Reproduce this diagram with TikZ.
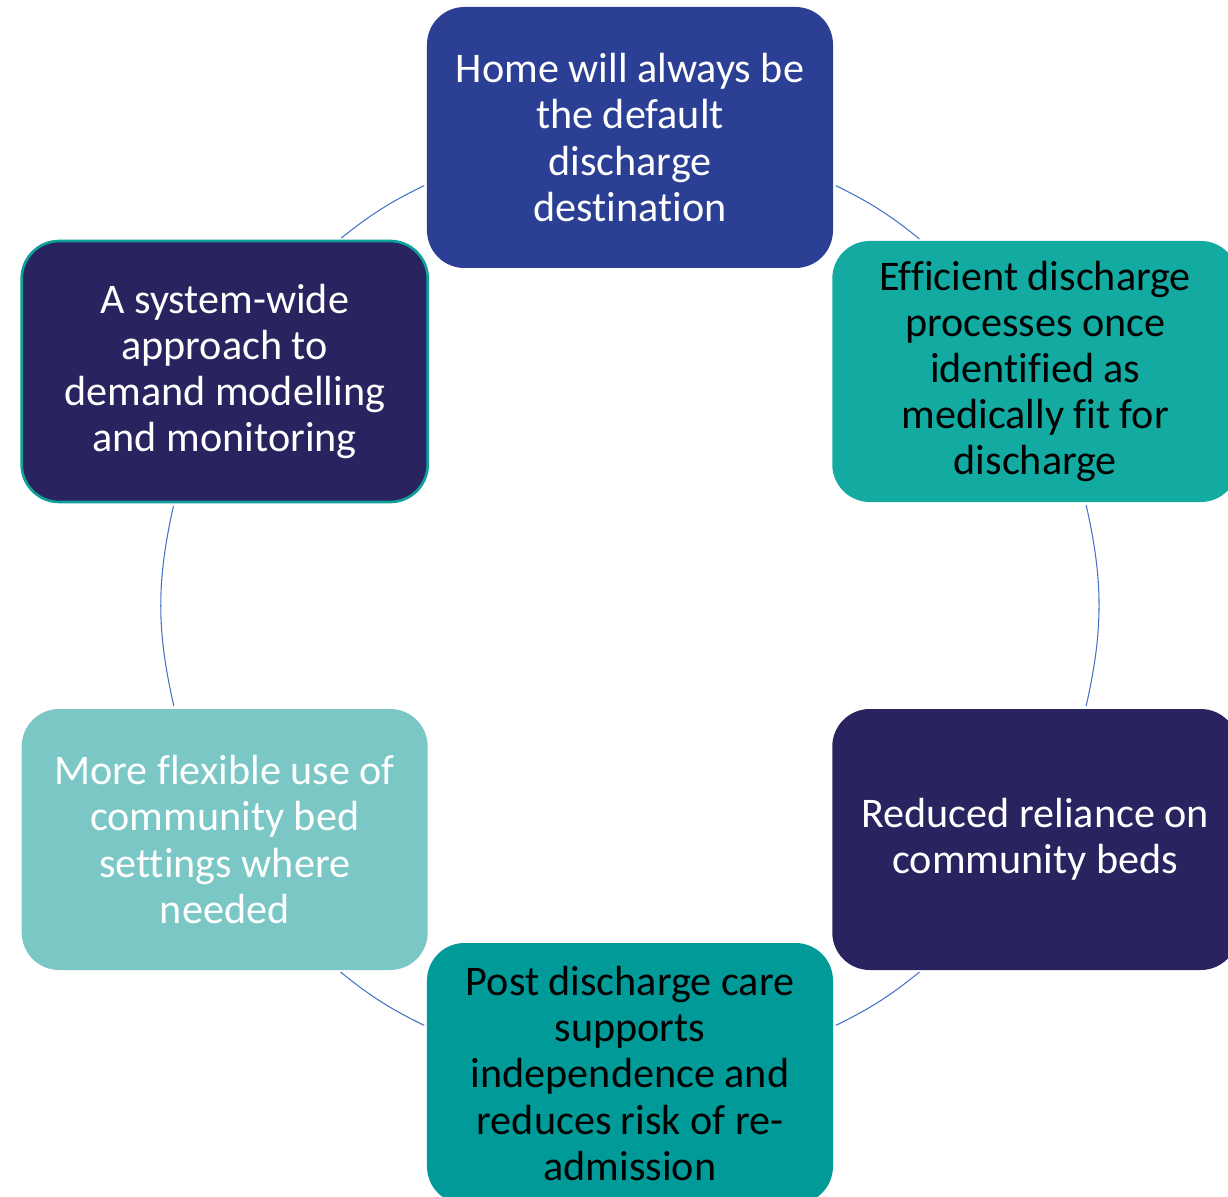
\documentclass[tikz,border=0pt]{standalone}
\usepackage{fontspec}
\setmainfont[Ligatures=NoCommon]{Carlito}

\definecolor{homeblue}{HTML}{2B3F95}
\definecolor{proccyan}{HTML}{13ABA1}
\definecolor{navy}{HTML}{29235F}
\definecolor{postteal}{HTML}{009B98}
\definecolor{flexteal}{HTML}{7AC7C6}
\definecolor{sysedge}{HTML}{10A09A}
\definecolor{ringblue}{HTML}{4472C4}

\begin{document}
\begin{tikzpicture}[
    goal/.style={rectangle, rounded corners=0.75cm, minimum width=8.12cm,
      minimum height=5.22cm, inner sep=0pt, align=center,
      font=\fontsize{24}{26.2}\selectfont},
    ring/.style={draw=ringblue, line width=0.6pt, shorten >=1.5pt, shorten <=1.5pt}
  ]
        \def \radius {9.36cm}
        \useasboundingbox (-12.6,-11.81) rectangle (11.96,12.11);

        \node[goal, fill=homeblue, text=white] (home) at (90:\radius)
          {Home will always be\\the default\\discharge\\destination};
        \node[goal, fill=proccyan, text=black] (proc) at (30:\radius)
          {Efficient discharge\\processes once\\identified as\\medically fit for\\discharge};
        \node[goal, fill=navy, text=white] (beds) at (-30:\radius)
          {Reduced reliance on\\community beds};
        \node[goal, fill=postteal, text=black] (post) at (-90:\radius)
          {Post discharge care\\supports\\independence and\\reduces risk of re-\\admission};
        \node[goal, fill=flexteal, text=white] (flex) at (210:\radius)
          {More flexible use of\\community bed\\settings where\\needed};
        \node[goal, fill=navy, draw=sysedge, line width=1.5pt, text=white] (sys) at (150:\radius)
          {A system-wide\\approach to\\demand modelling\\and monitoring};

        \path (home.-13) edge[ring, bend left=6.5] (proc.131);
        \path (proc.-69) edge[ring, bend left=12.8] (beds.69);
        \path (beds.-131) edge[ring, bend left=6.5] (post.13);
        \path (post.167) edge[ring, bend left=6.5] (flex.-49);
        \path (flex.111) edge[ring, bend left=12.8] (sys.-111);
        \path (sys.49) edge[ring, bend left=6.5] (home.-167);
      \end{tikzpicture}
\end{document}
